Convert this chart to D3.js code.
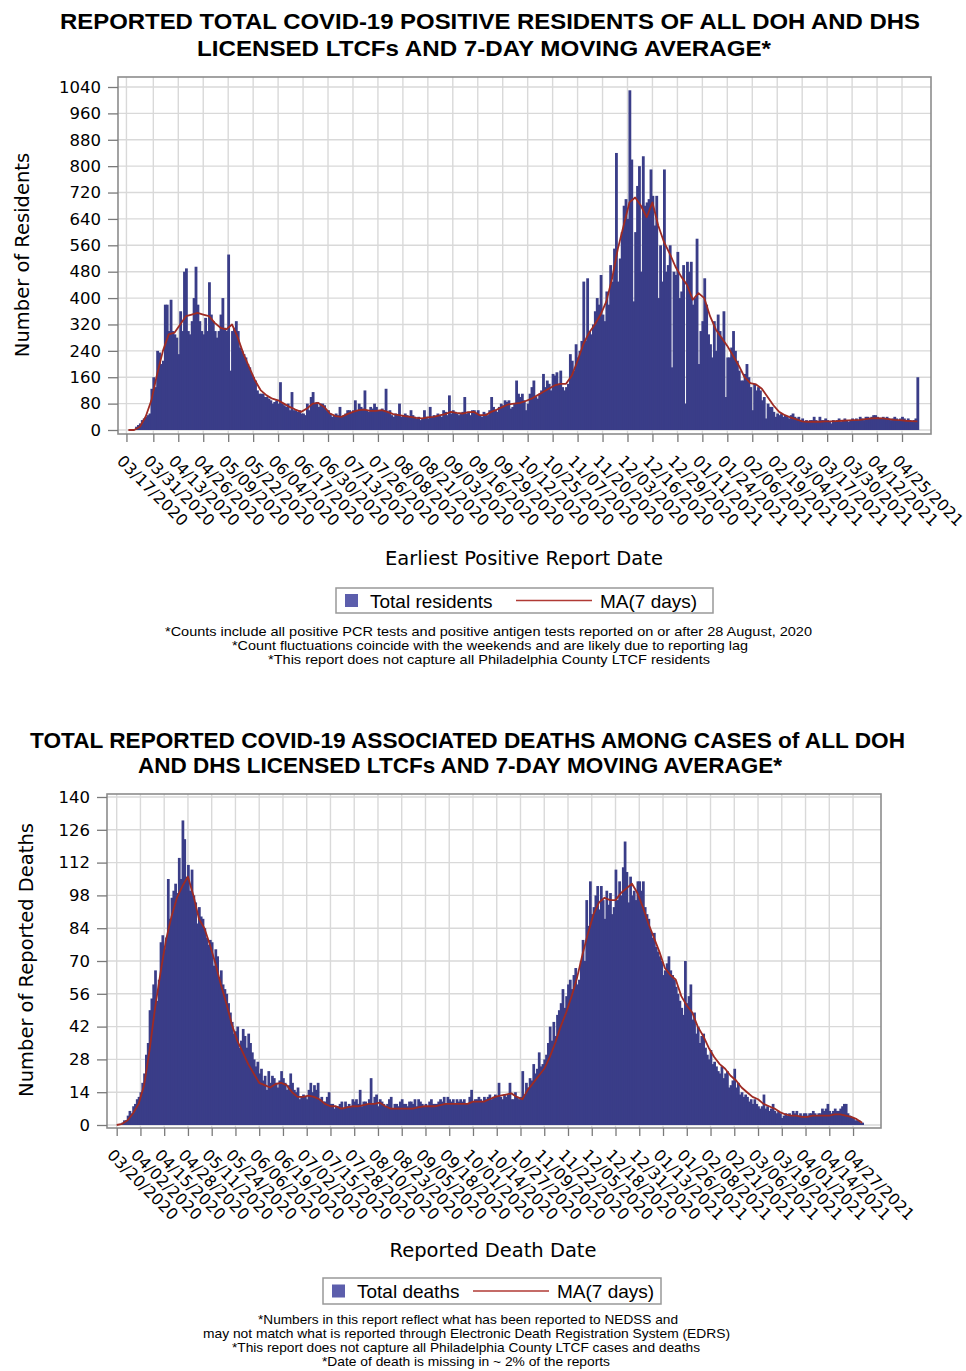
<!DOCTYPE html>
<html>
<head>
<meta charset="utf-8">
<title>LTCF COVID-19 residents and deaths</title>
<script src="https://cdn.jsdelivr.net/npm/d3@7"></script>
<style>
  body { margin: 0; background: #fff; }
  svg { display: block; }
  .title { font-family: "Liberation Sans Narrow", "Liberation Sans", Arial, sans-serif; font-weight: bold; font-size: 22px; fill: #000; }
  .axis text { font-family: "DejaVu Sans", sans-serif; font-size: 16px; fill: #000; }
  .axis line { stroke: #7a7a7a; stroke-width: 1.3; }
  .axis path { display: none; }
  .axisTitle { font-family: "DejaVu Sans", sans-serif; font-size: 19.5px; fill: #000; }
  .grid line { stroke: #d9d9d9; stroke-width: 1.4; }
  .frame { fill: none; stroke: #8c8c8c; stroke-width: 1.6; }
  .legendText { font-family: "Liberation Sans", Arial, sans-serif; font-size: 19px; fill: #000; }
  .note { font-family: "Liberation Sans Narrow", "Liberation Sans", Arial, sans-serif; font-size: 13px; fill: #000; }
</style>
</head>
<body>
<svg id="chart" width="966" height="1371"></svg>
<script>
// ---------- residents (top chart) ----------
const resStart = "2020-03-18";
const resTotals = [
  0,0,0,0,10,15,20,
  30,35,40,45,50,125,160,
  130,240,235,200,210,380,380,
  300,395,300,290,280,230,360,
  300,480,490,300,290,330,400,
  495,380,330,300,290,340,300,
  448,350,330,300,280,300,350,
  400,310,300,532,180,300,310,
  330,300,250,240,230,220,200,
  190,170,160,150,120,110,110,
  110,100,100,95,90,80,85,
  90,80,145,80,75,70,80,
  60,115,60,60,55,60,50,
  50,45,80,60,100,115,80,
  85,70,80,80,75,60,60,
  50,40,45,50,45,70,40,
  45,50,60,60,55,60,90,
  60,80,70,65,120,60,55,
  70,65,80,70,60,60,65,
  60,125,55,60,45,40,50,
  45,80,40,45,50,45,40,
  60,45,40,35,40,30,35,
  60,40,35,70,40,45,40,
  50,45,40,60,55,45,105,
  50,60,55,50,45,50,55,
  100,50,55,45,60,60,50,
  60,45,40,55,50,45,60,
  100,70,60,55,70,80,75,
  90,85,90,65,70,80,150,
  110,100,110,90,60,80,110,
  130,150,100,95,110,120,170,
  130,150,140,120,170,165,175,
  140,180,130,120,130,140,230,
  210,180,260,220,240,270,450,
  270,460,300,290,320,360,400,
  380,470,350,330,420,380,500,
  450,550,840,450,520,600,680,
  700,640,1030,820,390,600,740,
  800,480,830,680,690,700,790,
  710,620,710,400,560,450,790,
  480,500,560,190,480,470,540,
  400,420,500,80,510,480,510,
  380,400,580,200,300,330,460,
  380,290,260,220,330,240,350,
  300,280,360,100,220,220,250,
  300,240,210,180,150,150,170,
  200,160,130,60,140,120,130,
  120,90,100,35,80,70,70,
  55,40,50,45,50,40,45,
  40,35,45,50,40,35,40,
  30,35,25,30,25,30,30,
  40,30,25,40,30,30,35,
  30,25,20,30,25,30,35,
  25,30,35,30,25,30,35,
  30,35,30,40,35,30,40,
  40,35,40,45,45,40,35,
  35,40,35,40,35,30,35,
  40,35,30,35,40,35,30,
  35,30,25,30,35,160
];
// 7-day moving average, read every third day
const resMA = [
  0,0,10,40,90,170,240,290,295,320,
  345,350,355,350,345,325,310,305,320,280,
  230,190,150,120,105,95,90,80,70,62,
  55,65,80,82,70,50,42,40,48,55,
  60,62,58,58,60,55,48,45,42,40,
  37,35,38,40,44,48,55,52,50,54,
  55,45,45,55,62,70,78,80,82,88,
  95,105,115,125,135,140,140,165,210,260,
  295,320,350,390,460,550,620,690,705,680,
  645,690,620,570,535,495,465,440,395,415,
  400,345,305,280,255,225,195,160,142,138,
  125,100,75,55,45,38,32,26,25,25,
  25,26,26,27,28,29,30,31,33,35,
  36,35,33,31,30,28,27,26
];
const resTicks = ["03/17/2020","03/31/2020","04/13/2020","04/26/2020","05/09/2020","05/22/2020",
  "06/04/2020","06/17/2020","06/30/2020","07/13/2020","07/26/2020","08/08/2020","08/21/2020",
  "09/03/2020","09/16/2020","09/29/2020","10/12/2020","10/25/2020","11/07/2020","11/20/2020",
  "12/03/2020","12/16/2020","12/29/2020","01/11/2021","01/24/2021","02/06/2021","02/19/2021",
  "03/04/2021","03/17/2021","03/30/2021","04/12/2021","04/25/2021"];
const resYTicks = [0,80,160,240,320,400,480,560,640,720,800,880,960,1040];

// ---------- deaths (bottom chart) ----------
const dthStart = "2020-03-20";
const dthTotals = [
  0,0,0,1,2,2,4,
  6,5,8,9,11,12,14,
  18,22,30,35,49,54,60,
  66,53,62,78,81,75,80,
  105,88,97,100,103,99,114,
  105,130,122,106,111,100,109,
  98,95,86,93,89,88,84,
  80,77,79,78,68,75,72,
  63,66,60,58,56,52,48,
  44,39,40,42,33,36,41,
  38,33,39,35,31,28,25,
  27,22,24,19,21,15,23,
  18,21,20,18,16,19,23,
  20,18,15,17,22,18,15,
  14,16,11,12,13,12,11,
  15,18,14,17,15,18,11,
  12,10,10,12,14,9,9,
  7,8,8,9,10,7,10,
  8,9,8,11,10,11,9,
  15,8,10,10,9,11,20,
  9,12,13,8,11,10,9,
  8,9,11,12,7,9,9,
  8,10,11,9,9,8,10,
  10,9,11,8,11,10,9,
  8,9,8,10,11,9,9,
  9,10,11,10,12,9,12,
  11,10,11,9,11,10,11,
  10,11,9,9,12,15,10,
  11,11,12,11,10,12,11,
  12,13,11,12,13,12,18,
  12,11,13,12,13,18,11,
  11,14,12,11,12,23,13,
  18,16,20,19,26,22,24,
  31,25,26,28,30,35,42,
  36,44,38,47,49,52,58,
  50,55,60,62,58,64,67,
  60,62,70,79,70,96,85,
  104,90,93,98,102,92,102,
  96,88,100,94,99,90,93,
  109,96,104,98,110,121,108,
  95,106,98,100,96,104,104,
  100,104,93,90,88,83,80,
  82,76,74,72,70,64,66,
  69,72,66,64,62,59,56,
  53,50,47,70,52,55,60,
  45,48,39,42,35,38,39,
  33,30,28,32,26,27,25,
  23,22,25,20,22,23,16,
  17,19,24,16,18,13,14,
  12,13,12,10,11,9,11,
  9,8,7,8,13,7,8,
  6,7,9,6,5,6,5,
  3,4,5,4,5,4,6,
  5,6,4,5,4,5,5,
  4,5,5,6,5,4,5,
  5,7,6,7,9,6,5,
  6,7,6,6,7,8,9,
  9,5,4,3,3,2,2,
  2,1,1
];
const dthMA = [
  0,0.5,2,5,9,17,32,50,65,79,
  89,97,102,106,98,88,84,77,69,60,
  52,43,36,31,26,22,18,17,16,17.5,
  18,17,14,12,12,12.5,12,11,9,8,
  8,7,7.5,8,8,8.5,9,9,9.5,8,
  7,7,7,7,7,7.5,8,8,8,8.5,
  9,9,9,9,9,10,10,10,11,12,
  12.5,13,13.5,12,11,15,18,21,24,29,
  35,42,48,55,63,73,82,90,95,97,
  96,96,99,101,103,99,93,86,80,74,
  67,64,62,55,51,48,42,38,33,29,
  26,24,21,19,16,14,12,11,9,8,
  7,5.5,4.5,4,4,3.5,3.5,4,4,4,
  4,4.5,4.5,4,3.5,2.5,1
];
const dthTicks = ["03/20/2020","04/02/2020","04/15/2020","04/28/2020","05/11/2020","05/24/2020",
  "06/06/2020","06/19/2020","07/02/2020","07/15/2020","07/28/2020","08/10/2020","08/23/2020",
  "09/05/2020","09/18/2020","10/01/2020","10/14/2020","10/27/2020","11/09/2020","11/22/2020",
  "12/05/2020","12/18/2020","12/31/2020","01/13/2021","01/26/2021","02/08/2021","02/21/2021",
  "03/06/2021","03/19/2021","04/01/2021","04/14/2021","04/27/2021"];
const dthYTicks = [0,14,28,42,56,70,84,98,112,126,140];

// ---------- drawing ----------
const svg = d3.select("#chart");
const parseTick = d3.utcParse("%m/%d/%Y");
const parseDay = d3.utcParse("%Y-%m-%d");
const DAY = 864e5;

function drawPanel(p) {
  const g = svg.append("g");
  const start = parseDay(p.start);
  const ticks = p.ticks.map(parseTick);

  const x = d3.scaleUtc()
    .domain([new Date(+ticks[0] - p.pad[0] * DAY), new Date(+ticks[ticks.length - 1] + p.pad[1] * DAY)])
    .range([p.frame.left, p.frame.right]);
  const y = d3.scaleLinear()
    .domain([0, p.yTicks[p.yTicks.length - 1]])
    .range([p.y0, p.yTop]);

  // grid
  const grid = g.append("g").attr("class", "grid");
  grid.selectAll(".h").data(p.yTicks).join("line")
    .attr("x1", p.frame.left).attr("x2", p.frame.right)
    .attr("y1", d => y(d)).attr("y2", d => y(d));
  grid.selectAll(".v").data(ticks).join("line")
    .attr("x1", d => x(d)).attr("x2", d => x(d))
    .attr("y1", p.frame.top).attr("y2", p.frame.bottom);

  // daily bars (slightly overlapped so neighbours read as one solid block)
  const days = p.totals.map((v, i) => ({ date: d3.utcDay.offset(start, i), v }));
  const bw = x(new Date(+start + DAY)) - x(start);
  g.append("g").selectAll("rect").data(days).join("rect")
    .attr("x", d => x(d.date) - bw / 2)
    .attr("width", bw + 0.9)
    .attr("y", d => y(d.v))
    .attr("height", d => y(0) - y(d.v))
    .attr("fill", "#3a3d88");

  // moving average
  const ma = p.ma.map((v, i) => ({ date: d3.utcDay.offset(start, i * 3), v }));
  g.append("path")
    .attr("d", d3.line().x(d => x(d.date)).y(d => y(d.v))(ma))
    .attr("fill", "none")
    .attr("stroke", "#9e2b24")
    .attr("stroke-width", 1.8)
    .attr("stroke-linejoin", "round");

  // frame
  g.append("rect").attr("class", "frame")
    .attr("x", p.frame.left).attr("y", p.frame.top)
    .attr("width", p.frame.right - p.frame.left)
    .attr("height", p.frame.bottom - p.frame.top);

  // axes
  g.append("g").attr("class", "axis")
    .attr("transform", `translate(${p.frame.left},0)`)
    .call(d3.axisLeft(y).tickValues(p.yTicks).tickFormat(d3.format("d")).tickSize(10).tickPadding(7))
    .selectAll("text").style("font-size", "16.5px");

  const xa = g.append("g").attr("class", "axis")
    .attr("transform", `translate(0,${p.frame.bottom})`)
    .call(d3.axisBottom(x).tickValues(ticks).tickSize(8).tickFormat(d3.utcFormat("%m/%d/%Y")));
  xa.selectAll("text")
    .attr("x", 0).attr("y", 0).attr("dy", 0)
    .attr("text-anchor", "start")
    .attr("transform", "translate(-11,28) rotate(45)");

  // titles
  p.title.forEach(t => {
    g.append("text").attr("class", "title")
      .attr("x", t.x).attr("y", t.y)
      .attr("textLength", t.w).attr("lengthAdjust", "spacingAndGlyphs")
      .text(t.text);
  });

  g.append("text").attr("class", "axisTitle")
    .attr("text-anchor", "middle")
    .attr("transform", `translate(${p.yLabel.x},${p.yLabel.y}) rotate(-90)`)
    .text(p.yLabel.text);
  g.append("text").attr("class", "axisTitle")
    .attr("text-anchor", "middle")
    .attr("x", p.xLabel.x).attr("y", p.xLabel.y)
    .text(p.xLabel.text);

  // legend
  const L = p.legend;
  g.append("rect")
    .attr("x", L.x).attr("y", L.y).attr("width", L.w).attr("height", L.h)
    .attr("fill", "#fff").attr("stroke", "#999").attr("stroke-width", 1.5);
  g.append("rect")
    .attr("x", L.x + 9).attr("y", L.y + L.h / 2 - 6.5).attr("width", 13).attr("height", 13)
    .attr("fill", "#5c5eac");
  g.append("text").attr("class", "legendText")
    .attr("x", L.x + 34).attr("y", L.y + L.h / 2 + 7).text(L.bar);
  g.append("line")
    .attr("x1", L.lineX).attr("x2", L.lineX + 76)
    .attr("y1", L.y + L.h / 2).attr("y2", L.y + L.h / 2)
    .attr("stroke", "#b03a34").attr("stroke-width", 1.5);
  g.append("text").attr("class", "legendText")
    .attr("x", L.lineX + 84).attr("y", L.y + L.h / 2 + 7).text("MA(7 days)");

  // footnotes
  p.notes.forEach(n => {
    g.append("text").attr("class", "note")
      .attr("x", n.x).attr("y", n.y)
      .attr("textLength", n.w).attr("lengthAdjust", "spacingAndGlyphs")
      .text(n.text);
  });
}

drawPanel({
  start: resStart, totals: resTotals, ma: resMA, ticks: resTicks, yTicks: resYTicks,
  frame: { left: 118, top: 77, right: 931, bottom: 434 },
  y0: 430, yTop: 87, pad: [4.4, 15.1],
  title: [
    { text: "REPORTED TOTAL COVID-19 POSITIVE RESIDENTS OF ALL DOH AND DHS", x: 60, y: 29, w: 860 },
    { text: "LICENSED LTCFs AND 7-DAY MOVING AVERAGE*", x: 197, y: 56, w: 574 }
  ],
  yLabel: { text: "Number of Residents", x: 29, y: 255 },
  xLabel: { text: "Earliest Positive Report Date", x: 524, y: 565 },
  legend: { x: 336, y: 588, w: 377, h: 25, bar: "Total residents", lineX: 516 },
  notes: [
    { text: "*Counts include all positive PCR tests and positive antigen tests reported on or after 28 August, 2020", x: 165, y: 636, w: 647 },
    { text: "*Count fluctuations coincide with the weekends and are likely due to reporting lag", x: 232, y: 650, w: 516 },
    { text: "*This report does not capture all Philadelphia County LTCF residents", x: 268, y: 664, w: 442 }
  ]
});

drawPanel({
  start: dthStart, totals: dthTotals, ma: dthMA, ticks: dthTicks, yTicks: dthYTicks,
  frame: { left: 107, top: 794, right: 881, bottom: 1128 },
  y0: 1125, yTop: 797, pad: [5.3, 15.3],
  title: [
    { text: "TOTAL REPORTED COVID-19 ASSOCIATED DEATHS AMONG CASES of ALL DOH", x: 30, y: 748, w: 875 },
    { text: "AND DHS LICENSED LTCFs AND 7-DAY MOVING AVERAGE*", x: 138, y: 773, w: 644 }
  ],
  yLabel: { text: "Number of Reported Deaths", x: 33, y: 960 },
  xLabel: { text: "Reported Death Date", x: 493, y: 1257 },
  legend: { x: 323, y: 1278, w: 338, h: 26, bar: "Total deaths", lineX: 473 },
  notes: [
    { text: "*Numbers in this report reflect what has been reported to NEDSS and", x: 258, y: 1324, w: 420 },
    { text: "may not match what is reported through Electronic Death Registration System (EDRS)", x: 203, y: 1338, w: 527 },
    { text: "*This report does not capture all Philadelphia County LTCF cases and deaths", x: 232, y: 1352, w: 468 },
    { text: "*Date of death is missing in ~ 2% of the reports", x: 322, y: 1366, w: 288 }
  ]
});
</script>
</body>
</html>
